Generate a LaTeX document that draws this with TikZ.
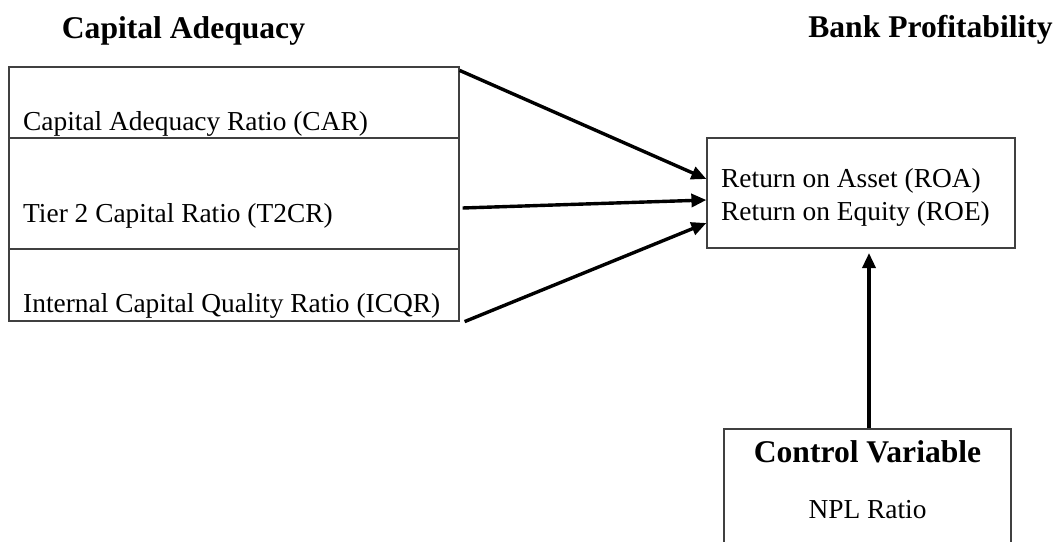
\documentclass[tikz,border=0pt]{standalone}
\usepackage{fontspec}
\setmainfont{Liberation Serif}
\usetikzlibrary{arrows.meta}
\tikzset{
	cell/.style = {draw = black!75, line width = 1.2pt, inner sep = 0pt},
	txt/.style = {inner sep = 0pt, font = \fontsize{27.4}{32}\selectfont},
	head/.style = {inner sep = 0pt, font = \fontsize{31.6}{36}\selectfont\bfseries},
	link/.style = {line width = 3.4pt, -{Triangle[length = 15pt, width = 13pt]}}
}
\begin{document}
\begin{tikzpicture}[x = 1pt, y = -1pt]
\useasboundingbox (0,0) rectangle (1059,541);
\clip (0,0) rectangle (1059,541);
\node[head, anchor = base] (capital) at (183.5,38) {Capital Adequacy};
\node[head, anchor = base] (profit) at (930.5,37) {Bank Profitability};
\foreach \n / \y / \h / \b / \t in {car/102.5/71/130/Capital Adequacy Ratio (CAR),
	tier/193.5/111/222/Tier 2 Capital Ratio (T2CR),
	icqr/285/72/312/Internal Capital Quality Ratio (ICQR)}
{
	\node[cell, minimum width = 450pt, minimum height = \h pt] (\n) at (234,\y) {};
	\node[txt, anchor = base west] (\n text) at (23,\b) {\t};
}
\node[cell, minimum width = 308pt, minimum height = 110pt] (prof) at (861,193) {};
\node[txt, anchor = base west] (roa) at (721,187) {Return on Asset (ROA)};
\node[txt, anchor = base west] (roe) at (721,220) {Return on Equity (ROE)};
\node[cell, minimum width = 287pt, minimum height = 131pt] (ctrl) at (867.5,494.5) {};
\node[head, anchor = base] (ctrl title) at (867.5,462) {Control Variable};
\node[txt, anchor = base] (npl) at (867.5,518) {NPL Ratio};
\coordinate (tip) at (869,253);
\draw[link] ([yshift = -4pt]car.north east) -- ([yshift = 14pt]prof.west);
\draw[link] ([xshift = 3pt, yshift = -14.5pt]tier.east) -- ([yshift = -7pt]prof.west);
\draw[link] ([xshift = 5pt]icqr.south east) -- ([yshift = -30pt]prof.west);
\draw[link] ([xshift = 1.5pt]ctrl.north) -- (tip);
\end{tikzpicture}
\end{document}
